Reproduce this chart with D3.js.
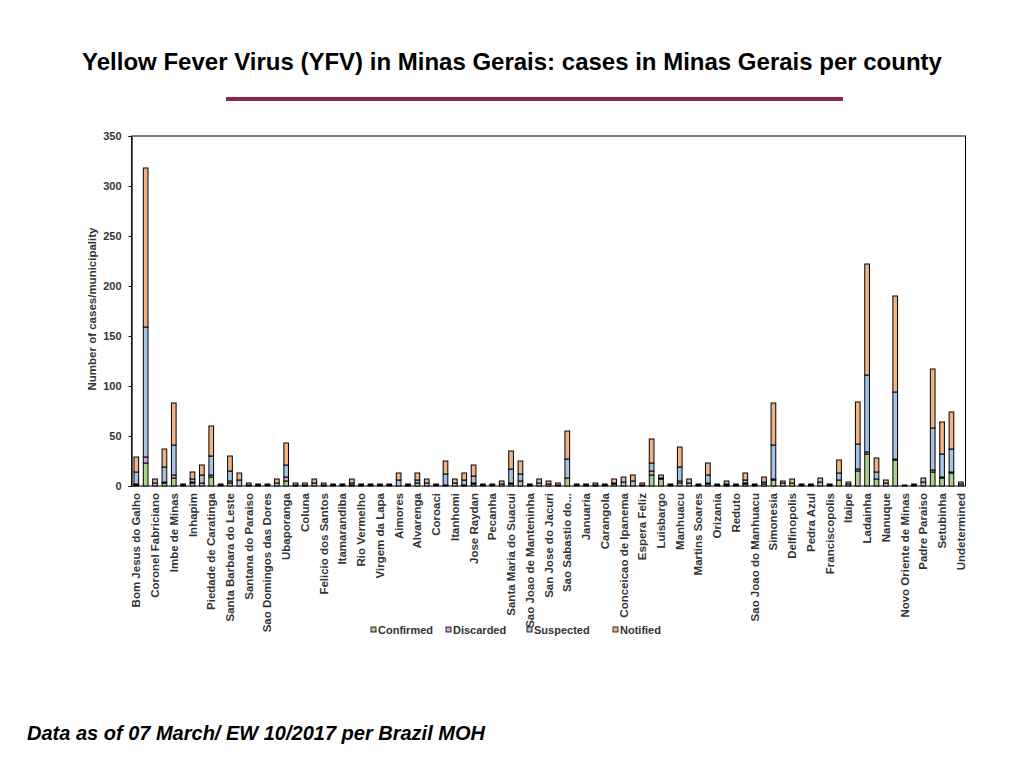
<!DOCTYPE html>
<html>
<head>
<meta charset="utf-8">
<script src="https://cdn.jsdelivr.net/npm/d3@7"></script>
<style>
  body { margin: 0; background: #fff; }
  text { font-family: "Liberation Sans", Arial, sans-serif; }
</style>
</head>
<body>
<div id="chart"></div>
<script>
// County labels (only every other name is printed on the axis, blanks are unread)
const counties = [
  'Bom Jesus do Galho', '', 'Coronel  Fabriciano', '', 'Imbe de Minas', '',
  'Inhapim', '', 'Piedade de Caratinga', '', 'Santa Barbara do Leste', '',
  'Santana do Paraiso', '', 'Sao Domingos das Dores', '', 'Ubaporanga', '',
  'Coluna', '', 'Felicio dos Santos', '', 'Itamarandiba', '', 'Rio Vermelho', '',
  'Virgem da Lapa', '', 'Aimores', '', 'Alvarenga', '', 'Coroaci', '',
  'Itanhomi', '', 'Jose Raydan', '', 'Pecanha', '', 'Santa Maria do Suacui', '',
  'Sao Joao de Manteninha', '', 'San Jose do Jacuri', '', 'Sao Sabastio do...', '',
  'Januaria', '', 'Carangola', '', 'Conceicao de Ipanema', '', 'Espera Feliz', '',
  'Luisbargo', '', 'Manhuacu', '', 'Martins Soares', '', 'Orizania', '',
  'Reduto', '', 'Sao Joao do Manhuacu', '', 'Simonesia', '', 'Delfinopolis', '',
  'Pedra Azul', '', 'Franciscopolis', '', 'Itaipe', '', 'Ladainha', '',
  'Nanuque', '', 'Novo Oriente de Minas', '', 'Padre Paraiso', '', 'Setubinha', '',
  'Undetermined'
];

const confirmed = [
  1, 23, 0, 3, 8, 0, 3, 0, 9, 1, 3, 0, 0, 0, 0, 0, 5, 0, 1, 0,
  1, 0, 0, 1, 0, 0, 0, 0, 0, 0, 3, 0, 0, 0, 0, 1, 2, 0, 0, 0,
  2, 5, 0, 0, 0, 0, 8, 0, 0, 0, 0, 2, 0, 0, 0, 11, 7, 0, 3, 0,
  0, 2, 0, 1, 0, 2, 0, 2, 6, 0, 3, 0, 0, 0, 0, 6, 0, 15, 32, 7,
  0, 26, 0, 0, 0, 14, 8, 13, 0
];
const discarded = [
  1, 6, 0, 1, 3, 0, 1, 3, 2, 0, 2, 0, 0, 0, 0, 0, 4, 0, 0, 0,
  0, 0, 0, 0, 0, 0, 0, 0, 0, 0, 0, 0, 0, 1, 0, 0, 1, 0, 0, 0,
  1, 0, 0, 0, 0, 0, 0, 0, 0, 0, 0, 0, 0, 0, 0, 4, 0, 0, 2, 0,
  0, 1, 0, 0, 0, 1, 0, 0, 1, 0, 0, 0, 0, 0, 0, 0, 0, 2, 2, 0,
  0, 1, 0, 0, 0, 2, 1, 1, 0
];
const suspected = [
  12, 130, 3, 15, 30, 1, 3, 8, 19, 0, 10, 6, 1, 1, 1, 3, 12, 1, 0, 3,
  0, 1, 1, 2, 1, 1, 1, 1, 6, 1, 3, 3, 1, 11, 3, 5, 7, 1, 1, 2,
  14, 7, 1, 3, 2, 1, 19, 1, 1, 1, 1, 1, 4, 5, 1, 8, 1, 1, 14, 3,
  1, 8, 1, 1, 1, 3, 1, 2, 34, 3, 0, 1, 1, 4, 1, 7, 2, 25, 77, 7,
  3, 67, 0, 1, 4, 42, 23, 23, 2
];
const notified = [
  15, 159, 4, 18, 42, 1, 7, 10, 30, 1, 15, 7, 2, 1, 1, 4, 22, 2, 2, 4,
  2, 1, 1, 4, 1, 1, 1, 1, 7, 1, 7, 4, 1, 13, 4, 7, 11, 1, 1, 3,
  18, 13, 1, 4, 3, 2, 28, 1, 1, 2, 1, 4, 5, 6, 2, 24, 3, 1, 20, 4,
  1, 12, 1, 3, 1, 7, 1, 5, 42, 2, 4, 1, 1, 4, 1, 13, 2, 42, 111, 14,
  3, 96, 1, 1, 4, 59, 32, 37, 2
];

const seriesNames = ['Confirmed', 'Discarded', 'Suspected', 'Notified'];
const seriesColors = ['#a9d18e', '#dba3de', '#a6c3e6', '#f2b384'];
const yTicks = [0, 50, 100, 150, 200, 250, 300, 350];

const rows = counties.map((c, i) => ({
  idx: i,
  Confirmed: confirmed[i],
  Discarded: discarded[i],
  Suspected: suspected[i],
  Notified: notified[i],
}));

const width = 1024;
const height = 768;

// Plot area
const plotLeft = 131.6;
const plotRight = 965.5;
const plotTop = 136;
const plotBottom = 486;

const svg = d3
  .select('#chart')
  .append('svg')
  .attr('width', width)
  .attr('height', height);

// Title and rule
svg
  .append('text')
  .attr('x', 512)
  .attr('y', 70)
  .attr('text-anchor', 'middle')
  .style('font-size', '24px')
  .style('font-weight', 'bold')
  .text('Yellow Fever Virus (YFV) in Minas Gerais: cases in Minas Gerais per county');

svg
  .append('rect')
  .attr('x', 226)
  .attr('y', 97)
  .attr('width', 617)
  .attr('height', 4)
  .attr('fill', '#8c2651');

// Scales
const x = d3
  .scaleBand()
  .domain(d3.range(counties.length))
  .range([plotLeft, plotRight])
  .paddingInner(0.5)
  .paddingOuter(0.25);

const y = d3
  .scaleLinear()
  .domain([0, 350])
  .range([plotBottom, plotTop]);

const stacked = d3.stack().keys(seriesNames)(rows);

// Plot frame
svg
  .append('rect')
  .attr('x', plotLeft)
  .attr('y', plotTop)
  .attr('width', plotRight - plotLeft)
  .attr('height', plotBottom - plotTop)
  .attr('fill', 'none')
  .attr('stroke', '#000')
  .attr('stroke-width', 1);

// Bars
svg
  .selectAll('.series')
  .data(stacked)
  .enter()
  .append('g')
  .attr('class', 'series')
  .attr('fill', (d, i) => seriesColors[i])
  .selectAll('rect')
  .data((d) => d.filter((p) => p[1] > p[0]))
  .enter()
  .append('rect')
  .attr('x', (d) => x(d.data.idx))
  .attr('y', (d) => y(d[1]))
  .attr('width', x.bandwidth())
  .attr('height', (d) => y(d[0]) - y(d[1]))
  .attr('stroke', '#000')
  .attr('stroke-width', 1);

// Y axis
const yAxis = d3.axisLeft(y).tickValues(yTicks).tickSize(3).tickPadding(7);
const yG = svg
  .append('g')
  .attr('transform', 'translate(' + plotLeft + ',0)')
  .call(yAxis);
yG.select('.domain').attr('stroke', '#000');
yG.selectAll('text')
  .style('font-size', '11px')
  .style('font-weight', 'bold')
  .attr('fill', '#333');

// X axis labels
const xAxis = d3
  .axisBottom(x)
  .tickSize(0)
  .tickFormat((i) => counties[i]);
const xG = svg
  .append('g')
  .attr('transform', 'translate(0,' + plotBottom + ')')
  .call(xAxis);
xG.select('.domain').remove();
xG.selectAll('text')
  .attr('transform', 'rotate(-90)')
  .attr('x', -7)
  .attr('y', 0)
  .attr('dy', '0.35em')
  .attr('text-anchor', 'end')
  .style('font-size', '11.5px')
  .style('font-weight', 'bold')
  .attr('fill', '#333');

// Y axis title
svg
  .append('text')
  .attr('transform', 'rotate(-90)')
  .attr('x', -(plotTop + plotBottom) / 2 + 2)
  .attr('y', 96)
  .attr('text-anchor', 'middle')
  .style('font-size', '11.5px')
  .style('font-weight', 'bold')
  .attr('fill', '#333')
  .text('Number of cases/municipality');

// Legend
const legendX = [371, 446, 527, 613];
const legend = svg
  .selectAll('.legend')
  .data(seriesNames)
  .enter()
  .append('g')
  .attr('class', 'legend')
  .attr('transform', (d, i) => 'translate(' + legendX[i] + ',630)');

legend
  .append('rect')
  .attr('x', 0)
  .attr('y', -3)
  .attr('width', 5)
  .attr('height', 5)
  .attr('fill', (d, i) => seriesColors[i])
  .attr('stroke', '#000')
  .attr('stroke-width', 0.8);

legend
  .append('text')
  .attr('x', 7)
  .attr('y', 4)
  .style('font-size', '11px')
  .style('font-weight', 'bold')
  .attr('fill', '#333')
  .text((d) => d);

// Footnote
svg
  .append('text')
  .attr('x', 27)
  .attr('y', 740)
  .style('font-size', '20px')
  .style('font-weight', 'bold')
  .style('font-style', 'italic')
  .text('Data as of 07 March/ EW 10/2017 per Brazil MOH');
</script>
</body>
</html>
